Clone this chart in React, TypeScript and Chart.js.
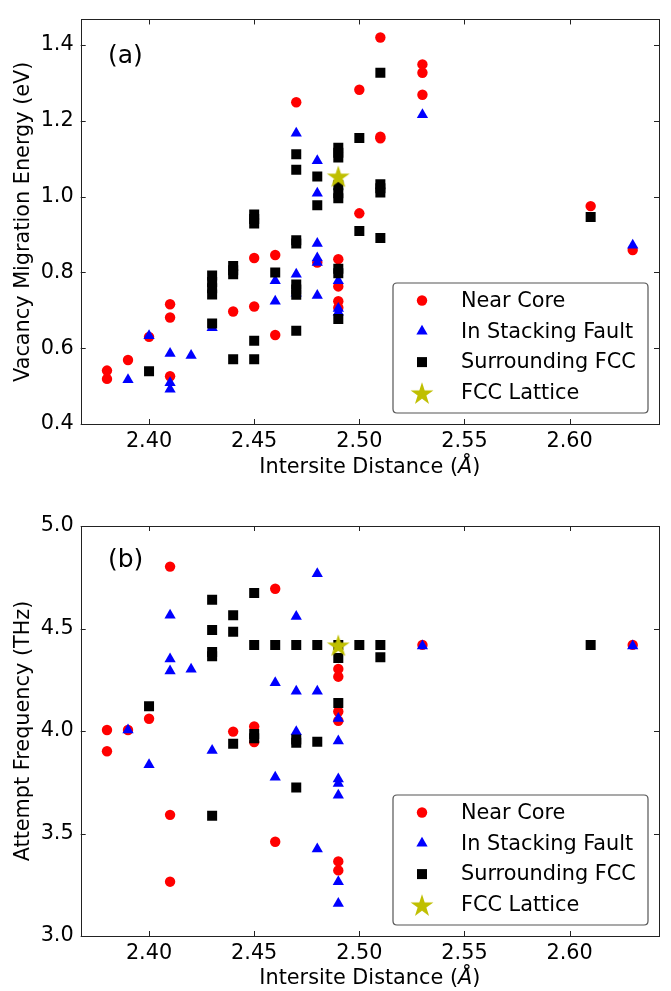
import React, { useEffect, useRef } from 'react';
import { Chart, registerables } from 'chart.js';

Chart.register(...registerables);

// ---------- shared axis data ----------
const xTicks = [2.4, 2.45, 2.5, 2.55, 2.6];
const energyTicks = [0.4, 0.6, 0.8, 1.0, 1.2, 1.4];
const freqTicks = [3.0, 3.5, 4.0, 4.5, 5.0];
const seriesLabels = ['Near Core', 'In Stacking Fault', 'Surrounding FCC', 'FCC Lattice'];

// ---------- (a) Vacancy migration energy (eV) ----------
const energyCoreX = [2.38, 2.38, 2.39, 2.40, 2.41, 2.41, 2.41, 2.44, 2.45, 2.45, 2.46, 2.46, 2.47, 2.48, 2.49, 2.49, 2.49, 2.49, 2.50, 2.50, 2.51, 2.51, 2.51, 2.53, 2.53, 2.53, 2.61, 2.63];
const energyCoreY = [0.541, 0.519, 0.569, 0.630, 0.716, 0.681, 0.526, 0.697, 0.838, 0.710, 0.846, 0.635, 1.249, 0.826, 0.835, 0.763, 0.724, 0.707, 1.282, 0.956, 1.420, 1.154, 1.158, 1.349, 1.327, 1.269, 0.975, 0.859];

const energyFaultX = [2.39, 2.40, 2.41, 2.41, 2.41, 2.42, 2.43, 2.46, 2.46, 2.47, 2.47, 2.47, 2.48, 2.48, 2.48, 2.48, 2.48, 2.48, 2.49, 2.49, 2.49, 2.53, 2.63];
const energyFaultY = [0.517, 0.633, 0.586, 0.509, 0.492, 0.581, 0.654, 0.778, 0.724, 1.167, 0.795, 0.745, 1.095, 1.009, 0.876, 0.838, 0.826, 0.739, 0.778, 0.705, 0.695, 1.216, 0.872];

const energyFccX = [2.40, 2.43, 2.43, 2.43, 2.43, 2.43, 2.44, 2.44, 2.44, 2.44, 2.45, 2.45, 2.45, 2.45, 2.45, 2.46, 2.47, 2.47, 2.47, 2.47, 2.47, 2.47, 2.47, 2.47, 2.48, 2.48, 2.49, 2.49, 2.49, 2.49, 2.49, 2.49, 2.49, 2.49, 2.49, 2.50, 2.50, 2.51, 2.51, 2.51, 2.51, 2.51, 2.61];
const energyFccY = [0.539, 0.792, 0.775, 0.758, 0.742, 0.665, 0.817, 0.806, 0.795, 0.571, 0.953, 0.941, 0.929, 0.620, 0.571, 0.800, 1.112, 1.071, 0.885, 0.876, 0.768, 0.755, 0.741, 0.646, 1.053, 0.977, 1.129, 1.116, 1.103, 1.030, 1.009, 0.996, 0.810, 0.798, 0.677, 1.155, 0.909, 1.327, 1.033, 1.022, 1.011, 0.891, 0.946];

const energyLatticeX = [2.49];
const energyLatticeY = [1.054];

// ---------- (b) Attempt frequency (THz) ----------
const freqCoreX = [2.38, 2.38, 2.39, 2.40, 2.41, 2.41, 2.41, 2.44, 2.45, 2.45, 2.46, 2.46, 2.49, 2.49, 2.49, 2.49, 2.49, 2.49, 2.53, 2.63];
const freqCoreY = [4.005, 3.901, 4.005, 4.060, 4.802, 3.591, 3.265, 3.997, 4.022, 3.946, 4.694, 3.460, 4.303, 4.265, 4.095, 4.050, 3.364, 3.320, 4.420, 4.420];

const freqFaultX = [2.39, 2.40, 2.41, 2.41, 2.41, 2.42, 2.43, 2.46, 2.46, 2.47, 2.47, 2.47, 2.48, 2.48, 2.48, 2.49, 2.49, 2.49, 2.49, 2.49, 2.49, 2.49, 2.53, 2.63];
const freqFaultY = [4.005, 3.835, 4.565, 4.351, 4.293, 4.301, 3.905, 4.235, 3.774, 4.559, 4.194, 3.996, 4.767, 4.194, 3.425, 4.061, 3.951, 3.766, 3.744, 3.687, 3.265, 3.158, 4.415, 4.415];

const freqFccX = [2.40, 2.43, 2.43, 2.43, 2.43, 2.43, 2.44, 2.44, 2.44, 2.45, 2.45, 2.45, 2.45, 2.46, 2.47, 2.47, 2.47, 2.47, 2.48, 2.48, 2.49, 2.49, 2.49, 2.50, 2.51, 2.51, 2.61];
const freqFccY = [4.121, 4.640, 4.493, 4.385, 4.365, 3.587, 4.565, 4.484, 3.938, 4.673, 4.419, 3.985, 3.965, 4.419, 4.419, 3.959, 3.943, 3.724, 4.419, 3.948, 4.419, 4.356, 4.136, 4.419, 4.419, 4.360, 4.419];

const freqLatticeX = [2.49];
const freqLatticeY = [4.419];

const FONT = '"DejaVu Sans", "Liberation Sans", sans-serif';
const FS = 20.8;
const RED = '#ff0000';
const BLUE = '#0000ff';
const BLACK = '#000000';
const OLIVE = '#bfbf00';

function makeStar(R: number): HTMLCanvasElement {
  const c = document.createElement('canvas');
  const s = Math.ceil(R * 2 + 4);
  c.width = s;
  c.height = s;
  const g = c.getContext('2d')!;
  const cx = s / 2;
  const cy = s / 2 + R * 0.1;
  const r = R * 0.381966;
  g.beginPath();
  for (let i = 0; i < 10; i++) {
    const rad = i % 2 === 0 ? R : r;
    const a = -Math.PI / 2 + (i * Math.PI) / 5;
    const px = cx + rad * Math.cos(a);
    const py = cy + rad * Math.sin(a);
    if (i === 0) g.moveTo(px, py);
    else g.lineTo(px, py);
  }
  g.closePath();
  g.fillStyle = OLIVE;
  g.fill();
  return c;
}

function drawMarker(ctx: CanvasRenderingContext2D, kind: number, x: number, y: number, star: HTMLCanvasElement) {
  ctx.save();
  if (kind === 0) {
    ctx.fillStyle = RED;
    ctx.beginPath();
    ctx.arc(x, y, 5.2, 0, Math.PI * 2);
    ctx.fill();
  } else if (kind === 1) {
    const r = 6.5;
    ctx.fillStyle = BLUE;
    ctx.beginPath();
    for (let i = 0; i < 3; i++) {
      const a = (i * 2 * Math.PI) / 3;
      const px = x + Math.sin(a) * r;
      const py = y - Math.cos(a) * r;
      if (i === 0) ctx.moveTo(px, py);
      else ctx.lineTo(px, py);
    }
    ctx.closePath();
    ctx.fill();
  } else if (kind === 2) {
    ctx.fillStyle = BLACK;
    ctx.fillRect(x - 5, y - 5, 10, 10);
  } else {
    ctx.drawImage(star, x - star.width / 2, y - star.height / 2);
  }
  ctx.restore();
}

const decorPlugin = {
  id: 'decor',
  afterDatasetsDraw(chart: any, _args: any, opts: any) {
    const { ctx, chartArea: a, scales } = chart;
    ctx.save();
    // frame + inward ticks on all sides
    ctx.strokeStyle = '#222';
    ctx.lineWidth = 1;
    const tl = 5;
    ctx.beginPath();
    for (const t of scales.x.ticks) {
      const px = Math.round(scales.x.getPixelForValue(t.value)) + 0.5;
      ctx.moveTo(px, a.bottom);
      ctx.lineTo(px, a.bottom - tl);
      ctx.moveTo(px, a.top);
      ctx.lineTo(px, a.top + tl);
    }
    for (const t of scales.y.ticks) {
      const py = Math.round(scales.y.getPixelForValue(t.value)) + 0.5;
      ctx.moveTo(a.left, py);
      ctx.lineTo(a.left + tl, py);
      ctx.moveTo(a.right, py);
      ctx.lineTo(a.right - tl, py);
    }
    ctx.stroke();
    ctx.strokeRect(Math.round(a.left) + 0.5, Math.round(a.top) + 0.5, Math.round(a.right - a.left), Math.round(a.bottom - a.top));

    // panel label
    ctx.fillStyle = '#000';
    ctx.font = `25px ${FONT}`;
    ctx.textAlign = 'left';
    ctx.textBaseline = 'middle';
    ctx.fillText(opts.panel, a.left + 27.3, a.top + opts.panelDy);

    // legend box
    const bw = 255;
    const bh = 130;
    const bx = a.right - 11 - bw;
    const by = a.bottom - 11 - bh;
    const rr = 4;
    ctx.beginPath();
    ctx.moveTo(bx + rr, by);
    ctx.lineTo(bx + bw - rr, by);
    ctx.quadraticCurveTo(bx + bw, by, bx + bw, by + rr);
    ctx.lineTo(bx + bw, by + bh - rr);
    ctx.quadraticCurveTo(bx + bw, by + bh, bx + bw - rr, by + bh);
    ctx.lineTo(bx + rr, by + bh);
    ctx.quadraticCurveTo(bx, by + bh, bx, by + bh - rr);
    ctx.lineTo(bx, by + rr);
    ctx.quadraticCurveTo(bx, by, bx + rr, by);
    ctx.closePath();
    ctx.fillStyle = 'rgba(255,255,255,0.85)';
    ctx.fill();
    ctx.strokeStyle = '#555';
    ctx.lineWidth = 1.2;
    ctx.stroke();
    ctx.font = `${FS}px ${FONT}`;
    ctx.textBaseline = 'middle';
    ctx.textAlign = 'left';
    seriesLabels.forEach((lab, i) => {
      const ry = by + 17.5 + i * 30.8;
      drawMarker(ctx, i, bx + 29, ry, opts.star);
      ctx.fillStyle = '#000';
      ctx.fillText(lab, bx + 68, ry + 1);
    });

    // x-axis title with italic Angstrom
    const p1 = 'Intersite Distance (';
    const p2 = 'Å';
    const p3 = ')';
    const fN = `${FS}px ${FONT}`;
    const fI = `italic ${FS}px ${FONT}`;
    ctx.font = fN;
    const w1 = ctx.measureText(p1).width;
    const w3 = ctx.measureText(p3).width;
    ctx.font = fI;
    const w2 = ctx.measureText(p2).width;
    const total = w1 + w2 + w3;
    let tx = (a.left + a.right) / 2 - total / 2;
    const ty = a.bottom + opts.xTitleDy;
    ctx.fillStyle = '#000';
    ctx.font = fN;
    ctx.fillText(p1, tx, ty);
    tx += w1;
    ctx.font = fI;
    ctx.fillText(p2, tx, ty);
    tx += w2;
    ctx.font = fN;
    ctx.fillText(p3, tx, ty);

    // y-axis title
    ctx.save();
    ctx.translate(opts.yTitleX, (a.top + a.bottom) / 2);
    ctx.rotate(-Math.PI / 2);
    ctx.textAlign = 'center';
    ctx.font = fN;
    ctx.fillText(opts.yTitle, 0, 0);
    ctx.restore();

    ctx.restore();
  },
};

type PanelProps = {
  width: number;
  height: number;
  top: number;
  padTop: number;
  xAxisHeight: number;
  yMin: number;
  yMax: number;
  yTicks: number[];
  yTitle: string;
  panel: string;
  panelDy: number;
  xTitleDy: number;
  core: [number[], number[]];
  fault: [number[], number[]];
  fcc: [number[], number[]];
  lattice: [number[], number[]];
};

function pts(p: [number[], number[]]) {
  return p[0].map((x, i) => ({ x, y: p[1][i] }));
}

function Panel(props: PanelProps) {
  const ref = useRef<HTMLCanvasElement | null>(null);
  useEffect(() => {
    if (!ref.current) return;
    const star = makeStar(12);
    const chart = new Chart(ref.current, {
      type: 'scatter',
      data: {
        datasets: [
          { label: seriesLabels[3], data: pts(props.lattice), pointStyle: star as any, pointRadius: 12, backgroundColor: OLIVE, borderColor: OLIVE, borderWidth: 0, order: 0 },
          { label: seriesLabels[2], data: pts(props.fcc), pointStyle: 'rect', pointRadius: 7.07, backgroundColor: BLACK, borderColor: BLACK, borderWidth: 0, order: 1 },
          { label: seriesLabels[1], data: pts(props.fault), pointStyle: 'triangle', pointRadius: 6.5, backgroundColor: BLUE, borderColor: BLUE, borderWidth: 0, order: 2 },
          { label: seriesLabels[0], data: pts(props.core), pointStyle: 'circle', pointRadius: 5.2, backgroundColor: RED, borderColor: RED, borderWidth: 0, order: 3 },
        ],
      },
      options: {
        animation: false,
        responsive: false,
        devicePixelRatio: 1,
        events: [],
        layout: { padding: { top: props.padTop, right: 6, left: 0, bottom: 0 } },
        plugins: {
          legend: { display: false },
          tooltip: { enabled: false },
          decor: {
            panel: props.panel,
            panelDy: props.panelDy,
            xTitleDy: props.xTitleDy,
            yTitle: props.yTitle,
            yTitleX: 24,
            star,
          },
        } as any,
        scales: {
          x: {
            type: 'linear',
            min: 2.3675,
            max: 2.6425,
            grid: { display: false, drawTicks: false },
            border: { display: false },
            afterBuildTicks: (s: any) => {
              s.ticks = xTicks.map((v) => ({ value: v }));
            },
            afterFit: (s: any) => {
              s.height = props.xAxisHeight;
            },
            ticks: {
              color: '#000',
              padding: 5,
              maxRotation: 0,
              font: { family: FONT, size: FS },
              callback: (v: any) => Number(v).toFixed(2),
            },
          },
          y: {
            type: 'linear',
            min: props.yMin,
            max: props.yMax,
            grid: { display: false, drawTicks: false },
            border: { display: false },
            afterBuildTicks: (s: any) => {
              s.ticks = props.yTicks.map((v) => ({ value: v }));
            },
            afterFit: (s: any) => {
              s.width = 80.7;
            },
            ticks: {
              color: '#000',
              padding: 7,
              font: { family: FONT, size: FS },
              callback: (v: any) => Number(v).toFixed(1),
            },
          },
        },
      },
      plugins: [decorPlugin as any],
    });
    return () => chart.destroy();
  }, []);
  return (
    <canvas
      ref={ref}
      width={props.width}
      height={props.height}
      style={{ position: 'absolute', left: 0, top: props.top, width: props.width, height: props.height }}
    />
  );
}

export default function App() {
  return (
    <div style={{ position: 'fixed', left: 0, top: 0, width: 671, height: 991, background: '#fff' }}>
      <Panel
        width={671}
        height={495}
        top={0}
        padTop={8}
        xAxisHeight={71}
        yMin={0.4}
        yMax={1.4675}
        yTicks={energyTicks}
        yTitle="Vacancy Migration Energy (eV)"
        panel="(a)"
        panelDy={37.5}
        xTitleDy={44}
        core={[energyCoreX, energyCoreY]}
        fault={[energyFaultX, energyFaultY]}
        fcc={[energyFccX, energyFccY]}
        lattice={[energyLatticeX, energyLatticeY]}
      />
      <Panel
        width={671}
        height={496}
        top={495}
        padTop={31}
        xAxisHeight={55}
        yMin={3.0}
        yMax={5.0}
        yTicks={freqTicks}
        yTitle="Attempt Frequency (THz)"
        panel="(b)"
        panelDy={34.5}
        xTitleDy={43}
        core={[freqCoreX, freqCoreY]}
        fault={[freqFaultX, freqFaultY]}
        fcc={[freqFccX, freqFccY]}
        lattice={[freqLatticeX, freqLatticeY]}
      />
    </div>
  );
}
